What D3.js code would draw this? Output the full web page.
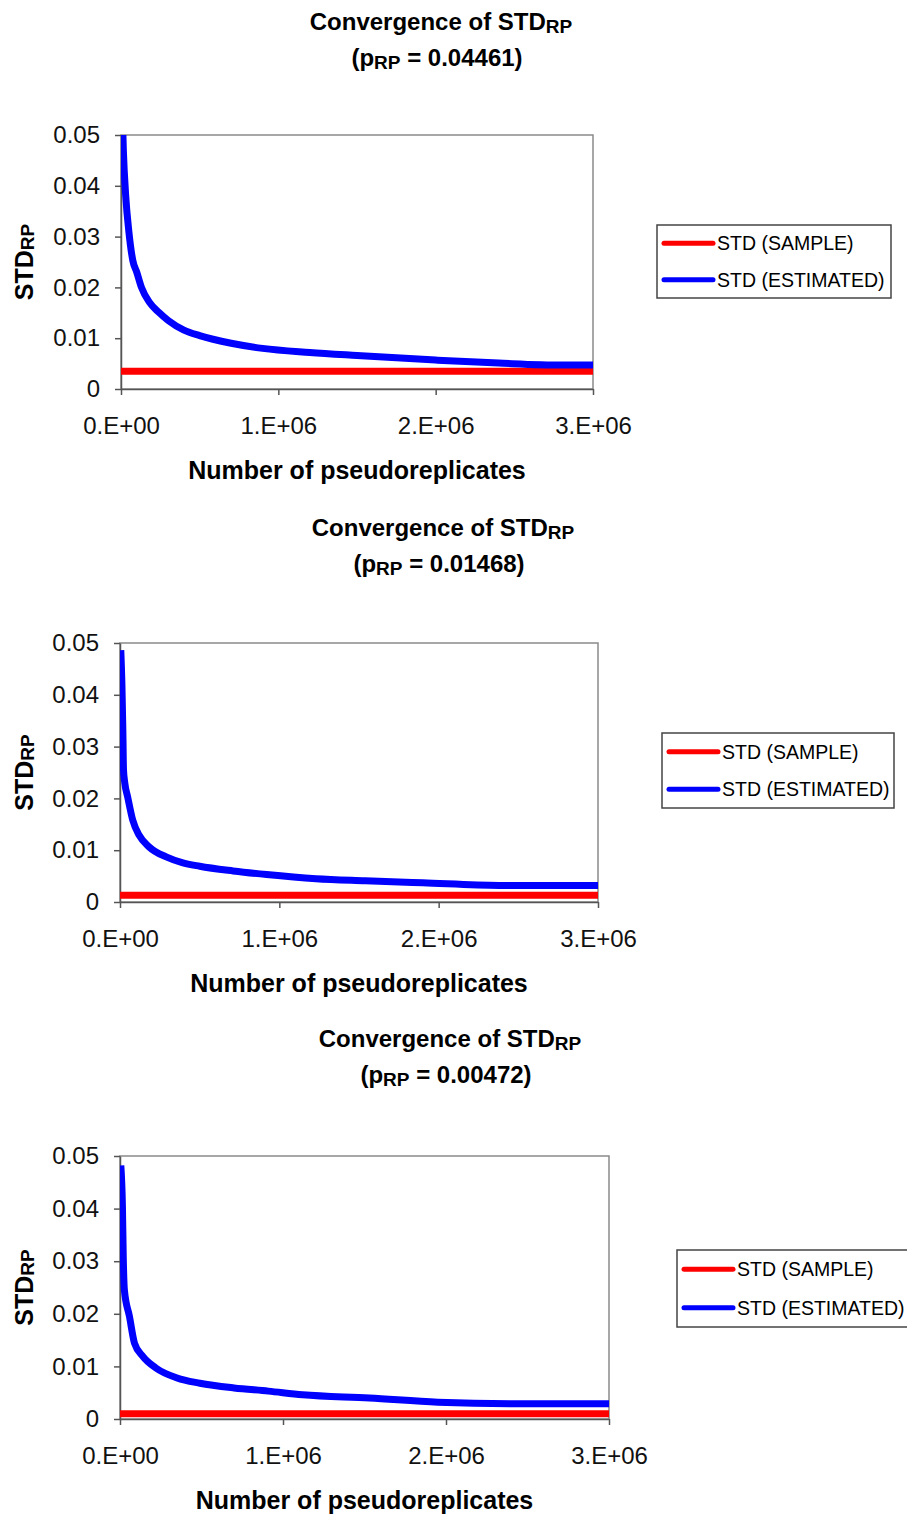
<!DOCTYPE html>
<html lang="en">

<head>
  <meta charset="UTF-8">
  <title>Convergence of STDRP</title>
  <script src="https://d3js.org/d3.v7.min.js"></script>
  <style>
    body {
      margin: 0;
      background: white;
    }

    svg {
      display: block;
      font-family: "Liberation Sans", Arial, sans-serif;
    }

    .title {
      font-size: 24px;
      font-weight: bold;
    }

    .axis-title {
      font-size: 25px;
      font-weight: bold;
    }

    .tick text {
      font-size: 24px;
      fill: #111;
    }

    .legend-text {
      font-size: 19.5px;
    }
  </style>
</head>

<body>
  <div id="chart"></div>

  <script>
    // tick values and labels (shared by the three panels)
    const xTickValues = [0, 1000000, 2000000, 3000000]
    const xTickLabels = ['0.E+00', '1.E+06', '2.E+06', '3.E+06']
    const yTickValues = [0, 0.01, 0.02, 0.03, 0.04, 0.05]
    const yTickLabels = ['0', '0.01', '0.02', '0.03', '0.04', '0.05']

    const seriesNames = ['STD (SAMPLE)', 'STD (ESTIMATED)']
    const seriesColors = ['#ff0000', '#0000ff']

    const pValues = ['0.04461', '0.01468', '0.00472']
    const sampleStd = [0.0035, 0.0013, 0.001]

    // estimated STD vs number of pseudoreplicates
    const est1N = [5000, 15000, 30000, 50000, 75000, 100000, 130000, 180000, 240000, 300000, 400000, 500000, 700000, 900000, 1200000, 1500000, 2000000, 2400000, 2800000, 3000000]
    const est1Std = [0.058, 0.047, 0.038, 0.031, 0.0253, 0.023, 0.020, 0.0171, 0.0151, 0.0135, 0.0116, 0.0105, 0.009, 0.008, 0.0072, 0.0066, 0.0057, 0.0051, 0.0047, 0.0047]

    const est2N = [5000, 12000, 18000, 22000, 30000, 48000, 80000, 120000, 184000, 290000, 390000, 500000, 710000, 920000, 1230000, 1540000, 1900000, 2380000, 3000000]
    const est2Std = [0.0486, 0.042, 0.033, 0.0255, 0.023, 0.0203, 0.0158, 0.0129, 0.0106, 0.0087, 0.0076, 0.0069, 0.006, 0.0053, 0.0045, 0.0041, 0.0037, 0.0032, 0.0032]

    const est3N = [5000, 15000, 20000, 27000, 58000, 89000, 140000, 220000, 350000, 490000, 700000, 910000, 1120000, 1530000, 1950000, 2450000, 3000000]
    const est3Std = [0.0482, 0.0403, 0.0308, 0.0245, 0.0195, 0.0144, 0.0119, 0.0097, 0.0078, 0.0068, 0.0059, 0.0053, 0.0046, 0.004, 0.0032, 0.0029, 0.0029]

    const estN = [est1N, est2N, est3N]
    const estStd = [est1Std, est2Std, est3Std]

    const width = 907
    const height = 1518

    // where each panel sits on the page
    const layouts = [
      { left: 121, right: 593, top: 135, bottom: 389, titleX: 441, titleY: 30, legendX: 657, legendY: 225, legendW: 234, legendH: 73 },
      { left: 120, right: 598, top: 643, bottom: 902, titleX: 443, titleY: 536, legendX: 662, legendY: 733, legendW: 232, legendH: 75 },
      { left: 120, right: 609, top: 1156, bottom: 1419, titleX: 450, titleY: 1047, legendX: 677, legendY: 1250, legendW: 236, legendH: 77 }
    ]

    const svg = d3.select('#chart')
      .append('svg')
      .attr('width', width)
      .attr('height', height)

    const lineGen = d3.line()
      .curve(d3.curveMonotoneX)

    layouts.forEach((lay, i) => {
      const g = svg.append('g')

      const x = d3.scaleLinear()
        .domain([0, 3000000])
        .range([lay.left, lay.right])

      const y = d3.scaleLinear()
        .domain([0, 0.05])
        .range([lay.bottom, lay.top])

      // title, two lines
      const t1 = g.append('text')
        .attr('class', 'title')
        .attr('x', lay.titleX)
        .attr('y', lay.titleY)
        .attr('text-anchor', 'middle')
      t1.append('tspan').text('Convergence of STD')
      t1.append('tspan').attr('font-size', 19).attr('dy', 3).text('RP')

      const t2 = g.append('text')
        .attr('class', 'title')
        .attr('x', lay.titleX - 4)
        .attr('y', lay.titleY + 36)
        .attr('text-anchor', 'middle')
      t2.append('tspan').text('(p')
      t2.append('tspan').attr('font-size', 19).attr('dy', 3).text('RP')
      t2.append('tspan').attr('dy', -3).text(` = ${pValues[i]})`)

      // plot frame
      g.append('rect')
        .attr('x', lay.left)
        .attr('y', lay.top)
        .attr('width', lay.right - lay.left)
        .attr('height', lay.bottom - lay.top)
        .attr('fill', 'white')
        .attr('stroke', '#8a8a8a')
        .attr('stroke-width', 1.5)

      const xAxis = d3.axisBottom(x)
        .tickValues(xTickValues)
        .tickFormat((_, k) => xTickLabels[k])
        .tickSizeInner(6)
        .tickSizeOuter(0)
        .tickPadding(22)

      const yAxis = d3.axisLeft(y)
        .tickValues(yTickValues)
        .tickFormat((_, k) => yTickLabels[k])
        .tickSizeInner(6)
        .tickSizeOuter(0)
        .tickPadding(15)

      g.append('g')
        .attr('transform', `translate(0,${lay.bottom})`)
        .call(xAxis)
        .call(a => a.selectAll('path, line').attr('stroke', '#555').attr('stroke-width', 1.5))
        .call(a => a.selectAll('text').attr('font-family', null).attr('font-size', null))

      g.append('g')
        .attr('transform', `translate(${lay.left},0)`)
        .call(yAxis)
        .call(a => a.selectAll('path, line').attr('stroke', '#555').attr('stroke-width', 1.5))
        .call(a => a.selectAll('text').attr('font-family', null).attr('font-size', null))

      // axis titles
      g.append('text')
        .attr('class', 'axis-title')
        .attr('x', (lay.left + lay.right) / 2)
        .attr('y', lay.bottom + 90)
        .attr('text-anchor', 'middle')
        .text('Number of pseudoreplicates')

      const yt = g.append('text')
        .attr('class', 'axis-title')
        .attr('transform', `translate(33,${(lay.top + lay.bottom) / 2}) rotate(-90)`)
        .attr('text-anchor', 'middle')
      yt.append('tspan').text('STD')
      yt.append('tspan').attr('font-size', 19).attr('dy', 1).text('RP')

      // clip lines to the plot (a little slack on the right for the line ends)
      const clipId = `clip${i}`
      svg.append('clipPath')
        .attr('id', clipId)
        .append('rect')
        .attr('x', lay.left)
        .attr('y', lay.top)
        .attr('width', lay.right - lay.left + 3)
        .attr('height', lay.bottom - lay.top)

      const plot = g.append('g')
        .attr('clip-path', `url(#${clipId})`)

      // sample STD: flat line
      plot.append('path')
        .attr('d', lineGen([[x(0), y(sampleStd[i])], [x(3000000), y(sampleStd[i])]]))
        .attr('fill', 'none')
        .attr('stroke', seriesColors[0])
        .attr('stroke-width', 7)

      // estimated STD
      plot.append('path')
        .attr('d', lineGen(estN[i].map((n, k) => [x(n), y(estStd[i][k])])))
        .attr('fill', 'none')
        .attr('stroke', seriesColors[1])
        .attr('stroke-width', 7)
        .attr('stroke-linejoin', 'round')

      // legend
      const legend = g.append('g')
        .attr('transform', `translate(${lay.legendX},${lay.legendY})`)

      legend.append('rect')
        .attr('width', lay.legendW)
        .attr('height', lay.legendH)
        .attr('fill', 'white')
        .attr('stroke', '#444')
        .attr('stroke-width', 1.5)

      const rowY = [lay.legendH * 0.25, lay.legendH * 0.75]

      legend.selectAll('line')
        .data(seriesNames)
        .enter()
        .append('line')
        .attr('x1', 7)
        .attr('x2', 56)
        .attr('y1', (_, k) => rowY[k])
        .attr('y2', (_, k) => rowY[k])
        .attr('stroke', (_, k) => seriesColors[k])
        .attr('stroke-width', 5)
        .attr('stroke-linecap', 'round')

      legend.selectAll('.legend-text')
        .data(seriesNames)
        .enter()
        .append('text')
        .attr('class', 'legend-text')
        .attr('x', 60)
        .attr('y', (_, k) => rowY[k])
        .attr('dy', '0.36em')
        .text(d => d)
    })
  </script>
</body>

</html>
